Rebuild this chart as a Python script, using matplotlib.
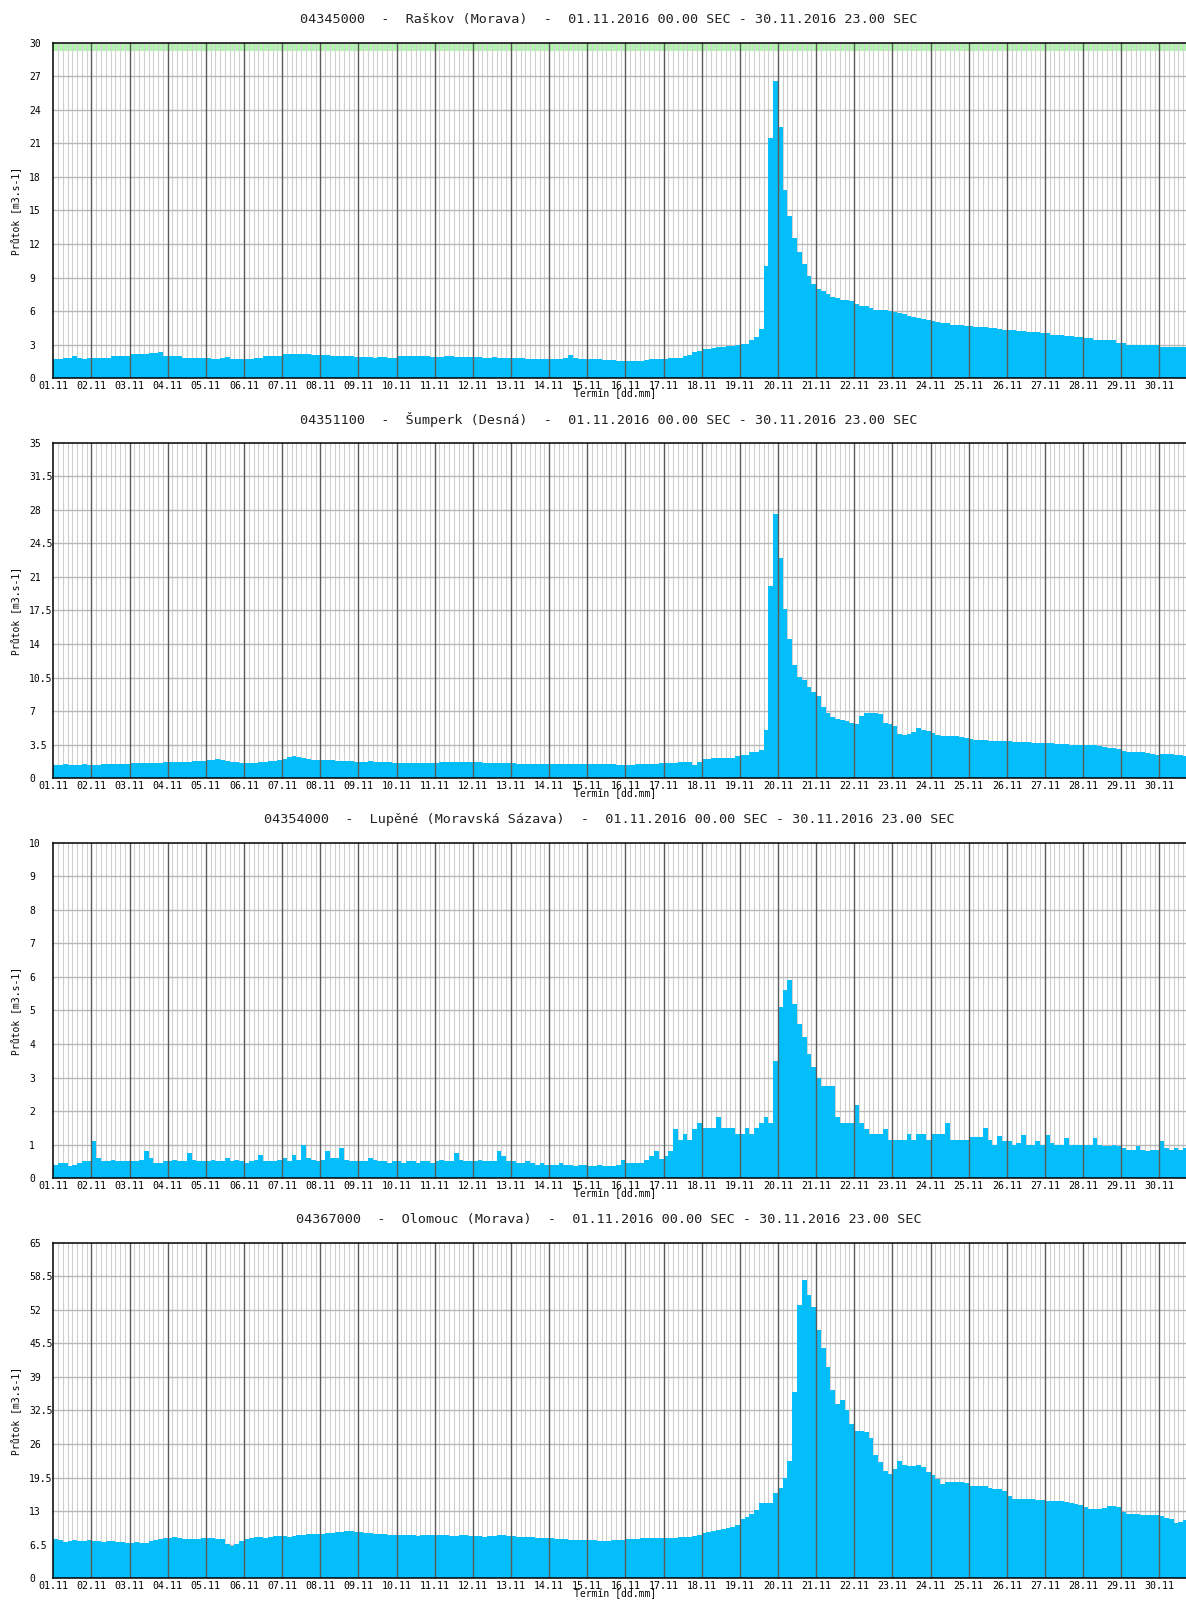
import numpy as np
import matplotlib
matplotlib.use("Agg")
import matplotlib.pyplot as plt
from matplotlib.ticker import FuncFormatter

# průtoky po 3 hodinách, 8 hodnot na den (01.11. 00:00 - 30.11. 23:00)
raskov = [
    1.75, 1.75, 1.8, 1.8, 1.95, 1.8, 1.75, 1.8,
    1.8, 1.8, 1.8, 1.85, 2.0, 2.0, 2.0, 2.0,
    2.2, 2.2, 2.2, 2.2, 2.25, 2.25, 2.3, 2.0,
    2.0, 2.0, 1.95, 1.8, 1.8, 1.8, 1.8, 1.8,
    1.8, 1.75, 1.75, 1.8, 1.9, 1.75, 1.7, 1.75,
    1.75, 1.75, 1.8, 1.8, 1.95, 1.95, 1.95, 2.0,
    2.15, 2.2, 2.2, 2.2, 2.15, 2.15, 2.1, 2.1,
    2.05, 2.05, 2.0, 2.0, 1.95, 1.95, 1.95, 1.9,
    1.9, 1.9, 1.9, 1.85, 1.9, 1.9, 1.85, 1.85,
    1.95, 2.0, 2.0, 2.0, 1.95, 1.95, 1.95, 1.9,
    1.9, 1.9, 1.95, 1.95, 1.9, 1.9, 1.9, 1.9,
    1.9, 1.9, 1.85, 1.85, 1.9, 1.85, 1.85, 1.8,
    1.8, 1.8, 1.8, 1.75, 1.75, 1.75, 1.7, 1.7,
    1.7, 1.7, 1.75, 1.8, 2.1, 1.8, 1.75, 1.75,
    1.75, 1.7, 1.7, 1.65, 1.6, 1.6, 1.55, 1.55,
    1.5, 1.5, 1.5, 1.55, 1.65, 1.7, 1.7, 1.7,
    1.75, 1.8, 1.8, 1.85, 1.95, 2.1, 2.3, 2.45,
    2.6, 2.65, 2.7, 2.75, 2.8, 2.85, 2.9, 2.95,
    3.1, 3.1, 3.4, 3.7, 4.4, 10.0, 21.5, 26.6,
    22.5, 16.8, 14.5, 12.5, 11.3, 10.2, 9.1, 8.4,
    8.0, 7.8, 7.5, 7.3, 7.2, 7.0, 7.0, 6.9,
    6.6, 6.5, 6.5, 6.3, 6.1, 6.1, 6.1, 6.0,
    5.9, 5.8, 5.7, 5.6, 5.5, 5.4, 5.3, 5.2,
    5.1, 5.0, 4.9, 4.9, 4.8, 4.8, 4.8, 4.7,
    4.7, 4.6, 4.6, 4.6, 4.5, 4.5, 4.4, 4.3,
    4.3, 4.3, 4.2, 4.2, 4.1, 4.1, 4.1, 4.0,
    4.0, 3.9, 3.9, 3.9, 3.8, 3.8, 3.7, 3.7,
    3.6, 3.6, 3.4, 3.4, 3.4, 3.4, 3.4, 3.15,
    3.15, 2.95, 2.95, 2.95, 2.95, 2.95, 2.95, 2.95,
    2.8, 2.8, 2.8, 2.75, 2.75, 2.75, 2.75, 2.75,
]

sumperk = [
    1.4, 1.4, 1.45, 1.4, 1.4, 1.4, 1.45, 1.4,
    1.4, 1.4, 1.45, 1.45, 1.45, 1.5, 1.5, 1.5,
    1.55, 1.55, 1.6, 1.6, 1.55, 1.6, 1.6, 1.65,
    1.65, 1.7, 1.7, 1.7, 1.7, 1.75, 1.75, 1.8,
    1.85, 1.95, 2.0, 1.9, 1.8, 1.7, 1.65, 1.6,
    1.6, 1.6, 1.6, 1.65, 1.7, 1.75, 1.8, 1.9,
    2.0, 2.2, 2.3, 2.2, 2.1, 2.0, 1.95, 1.9,
    1.9, 1.85, 1.85, 1.8, 1.8, 1.75, 1.75, 1.7,
    1.7, 1.7, 1.75, 1.7, 1.7, 1.65, 1.65, 1.6,
    1.6, 1.6, 1.6, 1.55, 1.55, 1.55, 1.6, 1.6,
    1.6, 1.65, 1.7, 1.7, 1.7, 1.7, 1.65, 1.65,
    1.65, 1.65, 1.6, 1.6, 1.6, 1.55, 1.55, 1.55,
    1.55, 1.5, 1.5, 1.5, 1.5, 1.5, 1.45, 1.45,
    1.45, 1.45, 1.5, 1.5, 1.5, 1.45, 1.45, 1.45,
    1.45, 1.45, 1.45, 1.45, 1.45, 1.45, 1.4, 1.4,
    1.4, 1.4, 1.45, 1.45, 1.5, 1.5, 1.5, 1.55,
    1.55, 1.6, 1.6, 1.65, 1.7, 1.7, 1.4, 1.7,
    2.05, 2.05, 2.1, 2.1, 2.1, 2.1, 2.15, 2.3,
    2.4, 2.45, 2.7, 2.7, 2.9, 5.0, 20.0, 27.6,
    23.0, 17.6, 14.5, 11.8, 10.6, 10.2, 9.5, 9.0,
    8.6, 7.4, 6.8, 6.4, 6.2, 6.1, 6.0, 5.8,
    5.7, 6.5, 6.8, 6.8, 6.8, 6.7, 5.8, 5.7,
    5.4, 4.6, 4.5, 4.6, 4.8, 5.2, 5.0, 4.9,
    4.7, 4.5, 4.4, 4.4, 4.4, 4.4, 4.3, 4.2,
    4.1, 4.0, 4.0, 4.0, 3.9, 3.9, 3.9, 3.9,
    3.85, 3.8, 3.8, 3.8, 3.75, 3.7, 3.7, 3.7,
    3.7, 3.65, 3.6, 3.6, 3.55, 3.5, 3.5, 3.45,
    3.5, 3.5, 3.45, 3.4, 3.3, 3.2, 3.1, 3.0,
    2.8, 2.75, 2.7, 2.7, 2.7, 2.6, 2.5, 2.4,
    2.5, 2.55, 2.5, 2.45, 2.4, 2.35, 2.3, 2.3,
]

lupene = [
    0.4, 0.45, 0.45, 0.35, 0.4, 0.45, 0.5, 0.5,
    1.1, 0.6, 0.5, 0.5, 0.55, 0.5, 0.5, 0.5,
    0.5, 0.5, 0.55, 0.8, 0.6, 0.45, 0.45, 0.5,
    0.5, 0.55, 0.5, 0.5, 0.75, 0.55, 0.5, 0.5,
    0.5, 0.55, 0.5, 0.5, 0.6, 0.5, 0.55, 0.5,
    0.45, 0.5, 0.55, 0.7, 0.5, 0.5, 0.5, 0.55,
    0.6, 0.5, 0.7, 0.55, 1.0, 0.6, 0.55, 0.5,
    0.55, 0.8, 0.6, 0.6, 0.9, 0.55, 0.5, 0.5,
    0.5, 0.5, 0.6, 0.55, 0.5, 0.5, 0.45, 0.5,
    0.5, 0.45, 0.5, 0.5, 0.45, 0.5, 0.5, 0.45,
    0.5, 0.55, 0.5, 0.5, 0.75, 0.55, 0.5, 0.5,
    0.5, 0.55, 0.5, 0.5, 0.5, 0.8, 0.65, 0.5,
    0.5, 0.45, 0.45, 0.5, 0.45, 0.4, 0.45, 0.4,
    0.4, 0.4, 0.45, 0.4, 0.4, 0.35, 0.4, 0.4,
    0.35, 0.35, 0.4, 0.35, 0.35, 0.35, 0.4, 0.54,
    0.46, 0.46, 0.46, 0.46, 0.54, 0.66, 0.8, 0.56,
    0.66, 0.82, 1.48, 1.13, 1.33, 1.13, 1.48, 1.65,
    1.5, 1.5, 1.5, 1.83, 1.5, 1.5, 1.5, 1.31,
    1.31, 1.5, 1.31, 1.5, 1.65, 1.83, 1.65, 3.5,
    5.1, 5.6, 5.9, 5.2, 4.6, 4.2, 3.7, 3.3,
    3.0, 2.76, 2.76, 2.76, 1.83, 1.65, 1.65, 1.65,
    2.18, 1.65, 1.48, 1.33, 1.33, 1.33, 1.48, 1.15,
    1.15, 1.15, 1.15, 1.31, 1.15, 1.31, 1.31, 1.15,
    1.31, 1.31, 1.31, 1.65, 1.15, 1.15, 1.15, 1.15,
    1.23, 1.23, 1.23, 1.5, 1.13, 1.0, 1.25, 1.1,
    1.1, 1.0, 1.05, 1.3, 1.0, 1.0, 1.1, 1.0,
    1.3, 1.05, 1.0, 1.0, 1.2, 1.0, 1.0, 1.0,
    1.0, 1.0, 1.2, 1.0, 0.95, 0.95, 1.0, 0.95,
    0.9, 0.85, 0.85, 0.95, 0.85, 0.8, 0.85, 0.85,
    1.1, 0.9, 0.85, 0.9, 0.85, 0.9, 0.85, 0.85,
]

olomouc = [
    7.6, 7.4, 7.0, 7.2, 7.4, 7.2, 7.2, 7.4,
    7.2, 7.2, 7.0, 7.2, 7.2, 7.0, 7.0, 6.8,
    6.8, 7.0, 6.8, 6.8, 7.2, 7.4, 7.6, 7.8,
    7.8, 8.0, 7.8, 7.6, 7.6, 7.6, 7.6, 7.8,
    7.8, 7.8, 7.6, 7.6, 6.6, 6.2, 6.6, 7.2,
    7.6, 7.8, 8.0, 8.0, 7.8, 8.0, 8.2, 8.2,
    8.2, 8.0, 8.2, 8.4, 8.4, 8.6, 8.6, 8.6,
    8.6, 8.8, 8.8, 9.0, 9.0, 9.2, 9.2, 9.0,
    9.0, 8.8, 8.8, 8.6, 8.6, 8.6, 8.4, 8.4,
    8.4, 8.4, 8.4, 8.4, 8.2, 8.4, 8.4, 8.4,
    8.4, 8.4, 8.4, 8.2, 8.2, 8.4, 8.4, 8.2,
    8.2, 8.2, 8.0, 8.2, 8.2, 8.4, 8.4, 8.2,
    8.2, 8.0, 8.0, 8.0, 8.0, 7.8, 7.8, 7.8,
    7.8, 7.6, 7.6, 7.6, 7.4, 7.4, 7.4, 7.4,
    7.4, 7.4, 7.2, 7.2, 7.2, 7.4, 7.4, 7.4,
    7.6, 7.6, 7.6, 7.8, 7.8, 7.8, 7.8, 7.8,
    7.8, 7.8, 7.8, 8.0, 8.0, 8.0, 8.2, 8.4,
    8.8, 9.0, 9.2, 9.4, 9.6, 9.8, 10.0, 10.4,
    11.4, 11.9, 12.5, 13.2, 14.5, 14.6, 14.6, 16.5,
    17.4, 19.5, 22.8, 36.0, 53.0, 57.8, 54.9, 52.5,
    48.0, 44.6, 41.0, 36.5, 33.8, 34.6, 32.5, 29.8,
    28.6, 28.6, 28.4, 27.1, 23.8, 22.5, 20.7, 20.1,
    21.2, 22.8, 22.0, 21.7, 21.7, 21.9, 21.5, 20.6,
    19.9, 19.3, 18.3, 18.7, 18.7, 18.7, 18.6, 18.4,
    17.9, 17.9, 17.9, 17.8, 17.4, 17.2, 17.2, 16.8,
    16.0, 15.4, 15.3, 15.3, 15.3, 15.3, 15.2, 15.1,
    15.0, 15.0, 15.0, 14.9, 14.7, 14.6, 14.4, 14.2,
    13.8, 13.5, 13.5, 13.5, 13.6, 14.0, 14.0, 13.8,
    12.9, 12.4, 12.4, 12.4, 12.3, 12.2, 12.2, 12.2,
    12.0, 11.7, 11.5, 10.6, 10.9, 11.2, 10.8, 10.7,
]

titles = [
    "04345000  -  Raškov (Morava)  -  01.11.2016 00.00 SEC - 30.11.2016 23.00 SEC",
    "04351100  -  Šumperk (Desná)  -  01.11.2016 00.00 SEC - 30.11.2016 23.00 SEC",
    "04354000  -  Lupěné (Moravská Sázava)  -  01.11.2016 00.00 SEC - 30.11.2016 23.00 SEC",
    "04367000  -  Olomouc (Morava)  -  01.11.2016 00.00 SEC - 30.11.2016 23.00 SEC",
]
series = [raskov, sumperk, lupene, olomouc]
y_max = [30, 35, 10, 65]
y_step = [3, 3.5, 1, 6.5]
day_labels = ["%02d.11" % d for d in range(1, 31)]

BLUE = "#04BEF9"
FONT = "DejaVu Sans Mono"
W, H = 1186, 1600

fig = plt.figure(figsize=(W / 100, H / 100), dpi=100)

for k in range(4):
    top = 42.7 + 400 * k
    ax = fig.add_axes([53.3 / W, 1 - (top + 335.5) / H, 1144.2 / W, 335.5 / H])

    vals = np.array(series[k])
    edges = np.arange(0, 721, 3)
    ax.stairs(vals, edges, fill=True, color=BLUE, zorder=2, baseline=0, lw=0)

    # mřížka
    for h in range(3, 720, 3):
        if h % 24:
            ax.axvline(h, color="#cfcfcf", lw=0.8, zorder=1)
    for d in range(1, 30):
        ax.axvline(24 * d, color="#5a5a5a", lw=1.0, zorder=3)
    yt = np.arange(0, y_max[k] + y_step[k] / 2, y_step[k])
    for yv in yt[1:-1]:
        ax.axhline(yv, color="#b8b8b8", lw=1.0, zorder=1)

    if k == 0:
        ax.axhspan(29.3, 30, color="#b3f5b0", zorder=0.5, lw=0)

    ax.set_xlim(0, 720)
    ax.set_ylim(0, y_max[k])
    ax.set_xticks(np.arange(0, 720, 24))
    ax.set_xticklabels(day_labels)
    ax.set_yticks(yt)
    ax.yaxis.set_major_formatter(FuncFormatter(lambda v, p: "%g" % round(v, 1)))
    ax.tick_params(length=0)
    ax.tick_params(axis="x", pad=2, labelsize=7.2)
    ax.tick_params(axis="y", pad=17.3, labelsize=7.0)
    for lab in ax.get_xticklabels():
        lab.set_family(FONT)
    for lab in ax.get_yticklabels():
        lab.set_family(FONT)
        lab.set_horizontalalignment("left")

    for s in ax.spines.values():
        s.set_linewidth(1.1)
        s.set_color("black")
        s.set_zorder(4)

    ax.text((16.5 - 53.3) / 1144.2, 0.5, "Průtok [m3.s-1]", transform=ax.transAxes,
            rotation=90, ha="center", va="center", fontsize=7.0, family=FONT)
    ax.text((615 - 53.3) / 1144.2, (378 - 394) / 335.5, "Termín [dd.mm]", transform=ax.transAxes,
            ha="center", va="center", fontsize=7.0, family=FONT)

    fig.text(609 / W, 1 - (19.4 + 400 * k) / H, titles[k], ha="center", va="center",
             fontsize=9.7, family=FONT, color="#222222")

fig.savefig("out.png", dpi=100)
